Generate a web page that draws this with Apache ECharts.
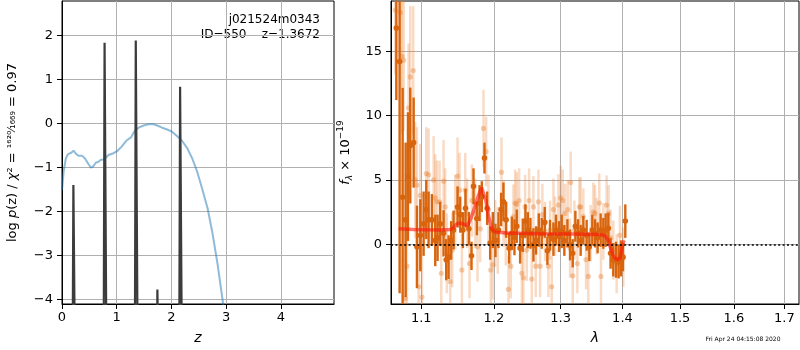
<!DOCTYPE html>
<html><head><meta charset="utf-8">
<script src="https://cdn.jsdelivr.net/npm/echarts@6/dist/echarts.min.js"></script>
<style>html,body{margin:0;padding:0;background:#fff}#c{width:800px;height:350px}</style>
</head><body><div id="c"></div>
<script>
// ---------- left panel data ----------
const pzZ   = [0,0.03,0.07,0.11,0.17,0.21,0.26,0.31,0.37,0.42,0.48,0.53,0.57,0.62,0.66,0.71,0.77,0.85,0.94,1.01,1.09,1.18,1.26,1.33,1.40,1.49,1.58,1.67,1.74,1.83,1.92,2.01,2.10,2.19,2.29,2.38,2.47,2.56,2.66,2.75,2.84,2.93,2.98];
const pzLog = [-1.52,-1.10,-0.80,-0.70,-0.67,-0.62,-0.70,-0.74,-0.74,-0.80,-0.92,-1.01,-0.98,-0.89,-0.88,-0.83,-0.82,-0.72,-0.68,-0.63,-0.53,-0.39,-0.32,-0.17,-0.10,-0.05,-0.02,-0.02,-0.05,-0.10,-0.14,-0.19,-0.29,-0.39,-0.57,-0.80,-1.10,-1.48,-1.93,-2.50,-3.18,-3.98,-4.45];
const chiZ   = [0.22,0.79,1.36,1.755,2.17];
const chiTop = [-1.40,1.83,1.88,-3.78,0.83];
const zTicks = [0,1,2,3,4];
const logpTicks = [-4,-3,-2,-1,0,1,2];

// ---------- right panel data ----------
const lamTicks = [1.1,1.2,1.3,1.4,1.5,1.6,1.7];
const fluxTicks = [0,5,10,15];
const darkLam = [1.0676,1.0718,1.0757,1.0796,1.0826,1.0856,1.0900,1.0943,1.0987,1.1031,1.1066,1.1097,1.1141,1.1186,1.1217,1.1253,1.1298,1.1334,1.1366,1.1402,1.1434,1.1489,1.1526,1.1563,1.1599,1.1646,1.1683,1.1711,1.1758,1.1796,1.1828,1.1866,1.1904,1.1947,1.1985,1.2023,1.2067,1.2105,1.2139,1.2178,1.2222,1.2261,1.2300,1.2334,1.2384,1.2423,1.2463,1.2498,1.2538,1.2583,1.2623,1.2664,1.2709,1.2755,1.2795,1.2836,1.2888,1.2929,1.2975,1.3017,1.3058,1.3106,1.3148,1.3190,1.3232,1.3274,1.3316,1.3359,1.3412,1.3455,1.3503,1.3547,1.3590,1.3639,1.3683,1.3721,1.3765,1.3803,1.3847,1.3892,1.3936,1.3975,1.4009,1.4048];
const darkFlux = [16.8,14.2,3.65,1.9,5.26,7.67,7.9,-0.2,0.7,1.6,2.7,1.9,1.9,0.3,0.5,1.6,0.85,-1.2,-1.0,0.3,1.1,2.9,2.3,1.1,2.8,1.2,-0.9,4.5,2.0,3.2,3.7,6.7,2.8,0.1,1.1,0.3,1.1,2.7,3.3,1.9,-0.3,0.85,0.55,1.4,-0.3,0.7,1.8,1.1,0.85,-0.05,0.3,1.1,0.85,1.7,-0.5,0.7,0.4,1.1,0.6,1.0,0.3,0.85,-0.05,-0.7,1.4,0.85,0.3,1.1,0.7,-0.2,1.1,0.85,0.5,1.1,0.85,1.1,1.25,-0.7,-1.2,-1.2,-1.35,-1.1,-1.0,1.8];
const darkErr = [5.6,18,8.5,6,5,4.5,3.5,3.2,2.8,2.5,2.3,2.2,2.0,2.0,1.8,1.7,1.8,1.6,1.7,1.5,1.5,1.6,1.4,1.4,1.5,1.3,1.1,1.4,1.3,1.4,1.2,1.2,1.3,1.3,1.4,1.3,1.4,1.3,1.5,1.4,1.2,1.3,1.4,1.3,1.2,1.3,1.3,1.4,1.2,1.3,1.1,1.3,1.2,1.2,1.1,1.2,1.3,1.2,1.2,1.3,1.2,1.1,1.2,1.1,1.2,1.1,1.2,1.1,1.2,1.1,1.2,1.1,1.2,1.3,1.2,1.3,1.2,1.2,1.3,1.4,1.3,1.4,1.1,1.3];
const lightLam = [1.0663,1.0727,1.0748,1.0770,1.0791,1.0813,1.0834,1.0856,1.0895,1.0921,1.0943,1.0965,1.0987,1.1009,1.1066,1.1097,1.1164,1.1186,1.1208,1.1244,1.1267,1.1298,1.1320,1.1343,1.1389,1.1416,1.1457,1.1489,1.1516,1.1549,1.1595,1.1622,1.1655,1.1688,1.1734,1.1767,1.1805,1.1852,1.1890,1.1923,1.1956,1.1985,1.2019,1.2057,1.2110,1.2139,1.2173,1.2212,1.2246,1.2285,1.2310,1.2334,1.2369,1.2409,1.2433,1.2458,1.2483,1.2518,1.2558,1.2583,1.2618,1.2659,1.2684,1.2719,1.2760,1.2811,1.2836,1.2862,1.2888,1.2914,1.2965,1.3001,1.3033,1.3069,1.3111,1.3148,1.3158,1.3190,1.3216,1.3263,1.3295,1.3316,1.3359,1.3402,1.3439,1.3477,1.3520,1.3547,1.3574,1.3617,1.3644,1.3683,1.3737,1.3770,1.3803,1.3847,1.3903,1.3958,1.4014];
const lightFlux = [18.2,18.0,14.6,14.3,-4.2,-1.7,10.6,13.0,13.5,5.0,4.6,-3.3,3.8,-4.1,5.5,5.4,5.0,3.6,3.3,3.3,-2.25,4.9,2.9,-0.7,-2.9,-0.45,2.5,5.3,4.2,-2.0,4.2,2.4,-1.5,3.4,2.4,-0.2,1.2,9.0,7.2,2.7,-2.0,-1.6,0.85,0.3,5.6,2.4,0.85,-3.5,-1.7,2.15,3.2,3.1,3.4,-2.25,-2.6,2.9,-0.45,3.4,-2.7,2.9,-1.7,3.3,-1.7,2.3,1.0,-1.7,1.1,-3.3,2.7,1.4,3.05,3.6,3.4,2.4,2.7,-0.3,4.8,-2.45,1.1,-1.5,2.9,2.9,2.15,-1.2,-2.5,0.85,2.5,2.4,1.4,3.2,-2.5,1.0,3.05,2.4,0.5,-0.45,-1.5,0.7,-1.0];
const lightErr = [5,6,6,5.5,6,5,5,5.5,5,4.5,4.5,4,4,4,3.6,3.6,3.4,3.4,3.2,3.2,3.1,3.2,3.0,3.1,3.0,2.9,2.9,3.0,2.9,2.8,2.9,2.7,2.7,2.8,2.7,2.7,2.6,3.0,2.7,2.7,2.6,2.7,2.6,2.6,2.7,2.6,2.5,2.6,2.5,2.5,2.6,2.5,2.5,2.4,2.5,2.5,2.4,2.5,2.4,2.4,2.4,2.5,2.4,2.4,2.3,2.4,2.3,2.4,2.4,2.3,2.4,2.5,2.4,2.3,2.3,2.3,2.4,2.3,2.3,2.3,2.3,2.3,2.2,2.3,2.3,2.2,2.3,2.2,2.2,2.3,2.3,2.2,2.3,2.2,2.2,2.3,2.3,2.3,2.3];
const modelLam  = [1.0705,1.0900,1.1075,1.1253,1.1389,1.1434,1.1480,1.1526,1.1581,1.1627,1.1674,1.1734,1.1781,1.1824,1.1852,1.1885,1.1923,1.1971,1.2019,1.2188,1.2684,1.3200,1.3628,1.3710,1.3765,1.3803,1.3847,1.3903,1.3958,1.3992,1.4025];
const modelFlux = [1.2,1.15,1.12,1.1,1.15,1.3,1.6,1.65,1.55,1.45,2.0,3.0,3.8,4.4,4.3,3.4,2.2,1.2,0.95,0.88,0.82,0.8,0.75,0.65,0.3,-0.3,-0.9,-1.2,-1.1,-0.3,0.3];

const FONT = 'DejaVu Sans';
const minus = v => (v < 0 ? '\u2212' + (-v) : '' + v);

// spike outline for the chi2 curve
const spikeHalfBase = 0.035, spikeHalfTop = 0.012, spikeFloor = -8;
const chiData = [[0, spikeFloor]];
chiZ.forEach((z, i) => {
  chiData.push([z - spikeHalfBase, spikeFloor], [z - spikeHalfTop, chiTop[i]], [z + spikeHalfTop, chiTop[i]], [z + spikeHalfBase, spikeFloor]);
});
chiData.push([5, spikeFloor]);

function errRender(barColor, dotColor, lw, r) {
  return function (params, api) {
    const x = api.value(0), y = api.value(1), e = api.value(2);
    const p = api.coord([x, y]), lo = api.coord([x, y - e]), hi = api.coord([x, y + e]);
    return {
      type: 'group', children: [
        { type: 'line', shape: { x1: p[0], y1: hi[1], x2: p[0], y2: lo[1] }, style: { stroke: barColor, lineWidth: lw } },
        { type: 'circle', shape: { cx: p[0], cy: p[1], r: r }, style: { fill: dotColor } }
      ]
    };
  };
}

const gridLine = { show: true, lineStyle: { color: '#b0b0b0', width: 1 } };
const axLine = { show: true, onZero: false, lineStyle: { color: '#000', width: 1 } };
const tickLbl = { color: '#000', fontSize: 13, fontFamily: FONT };

const chart = echarts.init(document.getElementById('c'), null, { renderer: 'canvas' });
chart.setOption({
  animation: false,
  backgroundColor: '#fff',
  grid: [
    { left: 62, right: 466, top: 1, bottom: 46, show: true, borderColor: '#000', borderWidth: 1, backgroundColor: 'transparent' },
    { left: 391, right: 1, top: 1, bottom: 46, show: true, borderColor: '#000', borderWidth: 1, backgroundColor: 'transparent' }
  ],
  xAxis: [
    { type: 'value', gridIndex: 0, min: 0, max: 4.97, axisLine: axLine,
      axisTick: { customValues: zTicks, length: 5, lineStyle: { color: '#000' } },
      axisLabel: Object.assign({ customValues: zTicks, margin: 7, formatter: minus }, tickLbl),
      splitLine: gridLine,
      name: 'z', nameLocation: 'middle', nameGap: 27,
      nameTextStyle: { fontStyle: 'italic', fontSize: 14, fontFamily: FONT, color: '#000' } },
    { type: 'value', gridIndex: 1, min: Math.log(1.0608), max: Math.log(1.730), axisLine: axLine,
      axisTick: { customValues: lamTicks.map(Math.log), length: 5, lineStyle: { color: '#000' } },
      axisLabel: Object.assign({ customValues: lamTicks.map(Math.log), margin: 8, formatter: v => Math.exp(v).toFixed(1) }, tickLbl),
      splitLine: gridLine,
      name: 'λ', nameLocation: 'middle', nameGap: 27,
      nameTextStyle: { fontStyle: 'italic', fontSize: 14, fontFamily: FONT, color: '#000' } }
  ],
  yAxis: [
    { type: 'value', gridIndex: 0, min: -4.107, max: 2.78, axisLine: axLine,
      axisTick: { customValues: logpTicks, length: 5, lineStyle: { color: '#000' } },
      axisLabel: Object.assign({ customValues: logpTicks, margin: 9, formatter: minus }, tickLbl),
      splitLine: gridLine,
      name: 'log {i|p}(z) / {i|χ}² = {f|¹⁶²⁰⁄₁₆₆₉} = 0.97', nameLocation: 'middle', nameRotate: 90, nameGap: 43,
      nameTextStyle: { fontSize: 13, fontFamily: FONT, color: '#000',
        rich: { i: { fontStyle: 'italic', fontSize: 13, fontFamily: FONT, color: '#000' },
                f: { fontSize: 11, fontFamily: FONT, color: '#000' } } } },
    { type: 'value', gridIndex: 1, min: -4.64, max: 18.9, axisLine: axLine,
      axisTick: { customValues: fluxTicks, length: 5, lineStyle: { color: '#000' } },
      axisLabel: Object.assign({ customValues: fluxTicks, margin: 9, formatter: minus }, tickLbl),
      splitLine: gridLine,
      name: '{i|f}{sub|λ} × 10{sup|−19}', nameLocation: 'middle', nameRotate: 90, nameGap: 36,
      nameTextStyle: { fontSize: 13, fontFamily: FONT, color: '#000', lineHeight: 18,
        rich: { i: { fontStyle: 'italic', fontSize: 13, fontFamily: FONT, color: '#000', lineHeight: 18 },
                sub: { fontStyle: 'italic', fontSize: 9, fontFamily: FONT, color: '#000', verticalAlign: 'bottom', lineHeight: 18 },
                sup: { fontSize: 9, fontFamily: FONT, color: '#000', verticalAlign: 'top', lineHeight: 18 } } } }
  ],
  series: [
    { type: 'line', xAxisIndex: 0, yAxisIndex: 0, showSymbol: false, clip: true, z: 2,
      data: pzZ.map((z, i) => [z, pzLog[i]]),
      lineStyle: { color: 'rgba(31,119,180,0.5)', width: 2 } },
    { type: 'line', xAxisIndex: 0, yAxisIndex: 0, showSymbol: false, clip: true, z: 3,
      data: chiData, lineStyle: { color: '#3c3c3c', width: 2.2 } },
    { type: 'custom', xAxisIndex: 1, yAxisIndex: 1, clip: true, z: 2,
      data: lightLam.map((l, i) => [Math.log(l), lightFlux[i], lightErr[i]]),
      encode: { x: 0, y: 1 },
      renderItem: errRender('rgba(232,125,45,0.28)', 'rgba(232,125,45,0.38)', 2.5, 2.6) },
    { type: 'custom', xAxisIndex: 1, yAxisIndex: 1, clip: true, z: 3,
      data: darkLam.map((l, i) => [Math.log(l), darkFlux[i], darkErr[i]]),
      encode: { x: 0, y: 1 },
      renderItem: errRender('rgb(216,101,13)', 'rgb(216,101,13)', 2.4, 2.8) },
    { type: 'line', xAxisIndex: 1, yAxisIndex: 1, showSymbol: false, clip: true, z: 4,
      data: modelLam.map((l, i) => [Math.log(l), modelFlux[i]]),
      lineStyle: { color: 'rgba(255,20,10,0.6)', width: 3.5 },
      markLine: { silent: true, symbol: 'none', label: { show: false },
        lineStyle: { color: '#000', width: 1.7, type: [2, 2.4] },
        data: [{ yAxis: 0 }] } }
  ],
  graphic: [
    { type: 'text', x: 320, y: 20, style: { text: 'j021524m0343', align: 'right', verticalAlign: 'middle', fontSize: 12, fontFamily: FONT, fill: '#000' } },
    { type: 'text', x: 320, y: 34.5, style: { text: 'ID=550    z=1.3672', align: 'right', verticalAlign: 'middle', fontSize: 12, fontFamily: FONT, fill: '#000' } },
    { type: 'text', x: 743, y: 339, style: { text: 'Fri Apr 24 04:15:08 2020', align: 'center', verticalAlign: 'middle', fontSize: 6, fontFamily: FONT, fill: '#000' } }
  ]
});
</script></body></html>
